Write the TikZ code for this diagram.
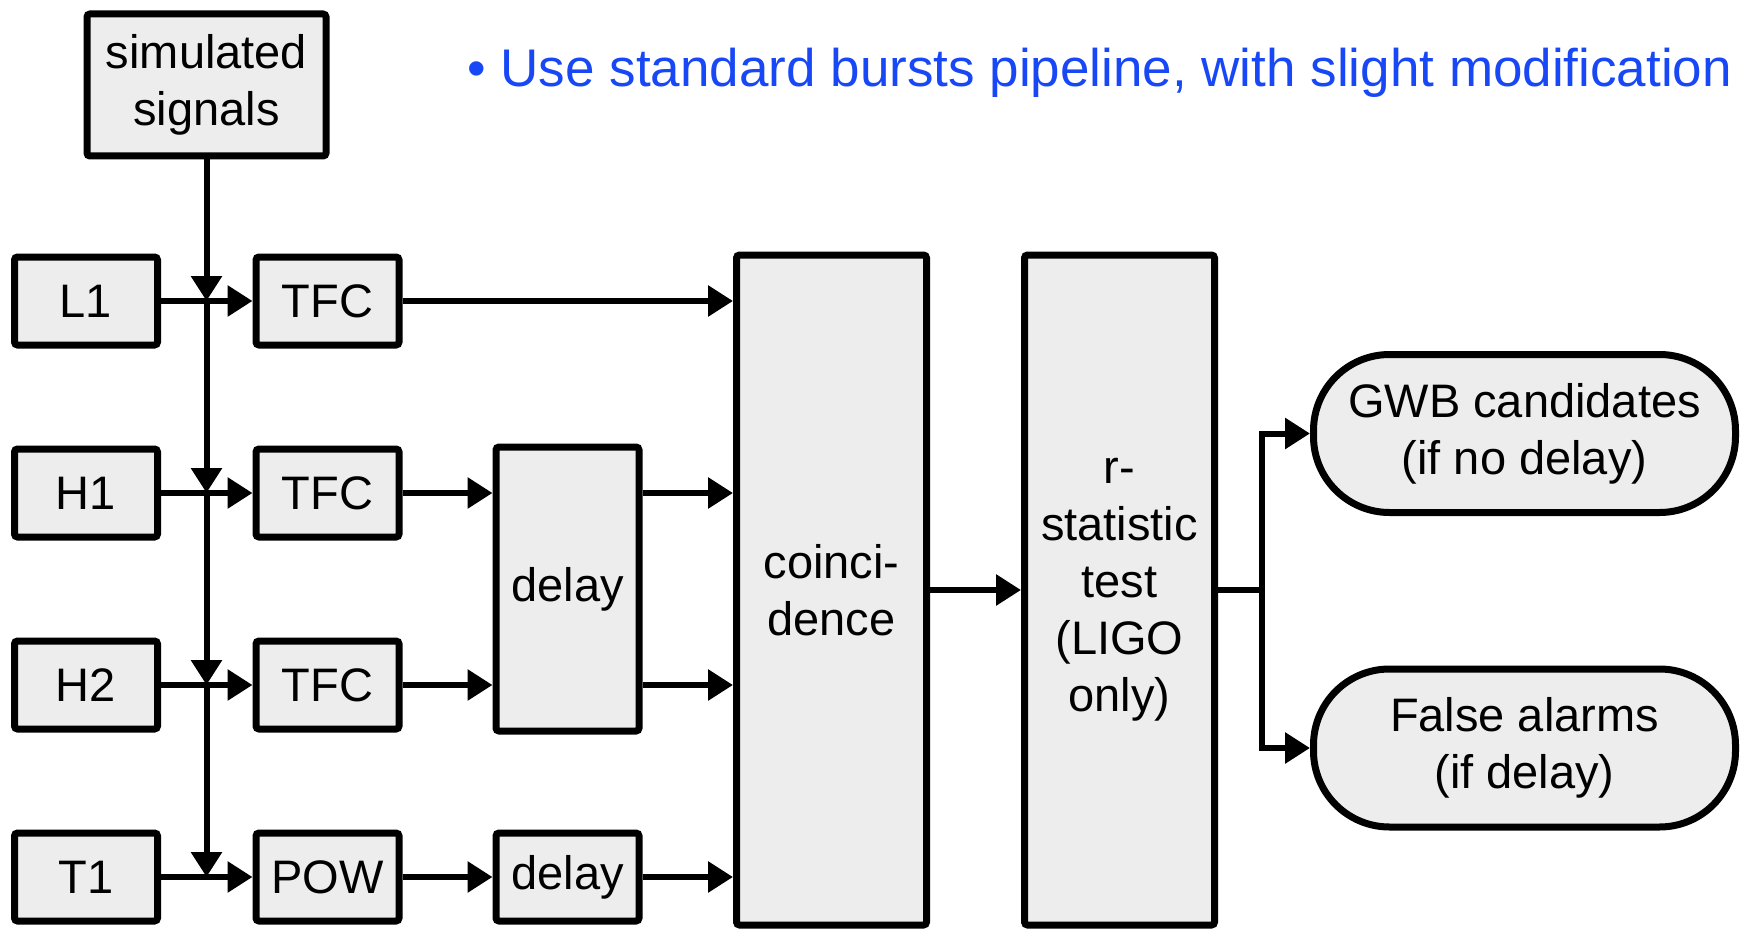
\documentclass[tikz,border=0pt]{standalone}
\usepackage{fontspec}
\setmainfont{Liberation Sans}
\usetikzlibrary{arrows.meta}
\definecolor{boxfill}{RGB}{237,237,237}
\definecolor{titleblue}{RGB}{24,72,245}
\begin{document}
\begin{tikzpicture}[x=0.5pt,y=-0.5pt,
  blk/.style={draw=black, line width=3.5pt, fill=boxfill, rounded corners=1.5pt, inner sep=0pt, align=center, font=\fontsize{23.5}{28.5}\selectfont},
  smallblk/.style={blk, minimum width=71.5pt, minimum height=44pt},
  tallblk/.style={blk, minimum width=95pt, minimum height=335pt},
  pill/.style={blk, rounded corners=38pt, minimum width=211pt, minimum height=79pt},
  conn/.style={line width=3pt, -{Triangle[length=12.5pt,width=15pt]}},
  wire/.style={line width=3pt}
]
\useasboundingbox (0,0) rectangle (1741,931);

% title
\node[anchor=base west, text=titleblue, font=\fontsize{26.5}{30}\selectfont, inner sep=0pt] (title) at (467,87) {• Use standard bursts pipeline, with slight modification};

% source
\node[blk, minimum width=119.5pt, minimum height=71pt] (sim) at (206.5,85) {simulated\\signals};

% detectors
\node[smallblk] (l1) at (86,301) {L1};
\node[smallblk] (h1) at (86,493) {H1};
\node[smallblk] (h2) at (86,685) {H2};
\node[smallblk] (t1) at (86,877) {T1};

% filters
\node[smallblk] (tfca) at (327.5,301) {TFC};
\node[smallblk] (tfcb) at (327.5,493) {TFC};
\node[smallblk] (tfcc) at (327.5,685) {TFC};
\node[smallblk] (pow) at (327.5,877) {POW};

% delays
\node[blk, minimum width=71.5pt, minimum height=142pt] (dbig) at (567.5,589) {delay};
\node[smallblk] (dsmall) at (567.5,877) {delay};

% coincidence and r-statistic
\node[tallblk] (coin) at (831.5,590) {coinci-\\dence};
\node[tallblk] (rstat) at (1119.5,590) {r-\\statistic\\test\\(LIGO\\only)};

% outputs
\node[pill] (gwb) at (1524.5,433.5) {GWB candidates\\(if no delay)};
\node[pill] (fa) at (1524.5,748) {False alarms\\(if delay)};

% injection bus
\coordinate (ja) at (sim.south |- l1);
\coordinate (jb) at (sim.south |- h1);
\coordinate (jc) at (sim.south |- h2);
\coordinate (jd) at (sim.south |- t1);
\draw[conn] (sim.south) -- (ja);
\draw[conn] (ja) -- (jb);
\draw[conn] (jb) -- (jc);
\draw[conn] (jc) -- (jd);

% detector to filter
\draw[conn] (l1.east) -- (tfca.west);
\draw[conn] (h1.east) -- (tfcb.west);
\draw[conn] (h2.east) -- (tfcc.west);
\draw[conn] (t1.east) -- (pow.west);

% filter to delay / coincidence
\draw[conn] (tfca.east) -- (tfca.east -| coin.west);
\draw[conn] (tfcb.east) -- (tfcb.east -| dbig.west);
\draw[conn] (tfcc.east) -- (tfcc.east -| dbig.west);
\draw[conn] (pow.east) -- (dsmall.west);

\draw[conn] (tfcb.east -| dbig.east) -- (tfcb.east -| coin.west);
\draw[conn] (tfcc.east -| dbig.east) -- (tfcc.east -| coin.west);
\draw[conn] (dsmall.east) -- (dsmall.east -| coin.west);

% coincidence to r-statistic
\draw[conn] (coin.east) -- (rstat.west);

% fork to outputs
\coordinate (fork) at (1262,590);
\draw[wire] (rstat.east) -- (fork);
\draw[conn] (fork) |- (gwb.west);
\draw[conn] (fork) |- (fa.west);
\end{tikzpicture}
\end{document}
